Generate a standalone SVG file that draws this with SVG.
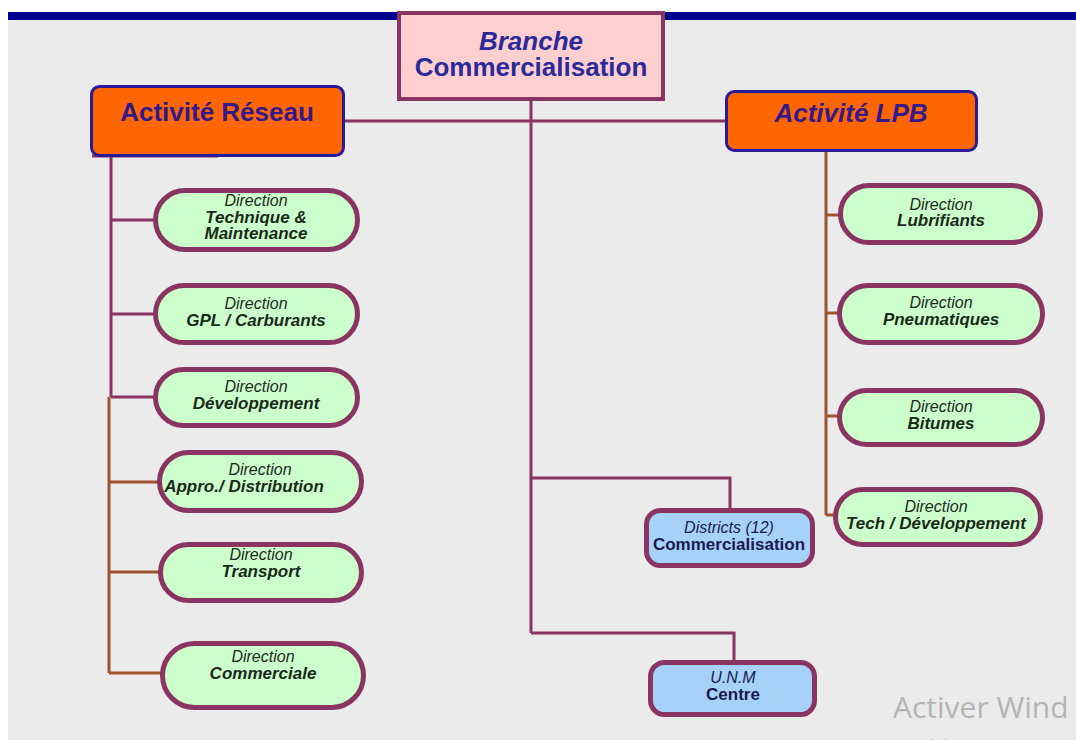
<svg xmlns="http://www.w3.org/2000/svg" width="1076" height="740" viewBox="0 0 1076 740">
  <style>
    .bg { fill: #ebebeb; }
    .bar { fill: #000090; }
    .root { fill: #ffcfcf; stroke: #8a3461; stroke-width: 4; }
    .act { fill: #ff6600; stroke: #2a1a9a; stroke-width: 3; }
    .pill { fill: #ccffcc; stroke: #8a3461; stroke-width: 5; }
    .unit { fill: #a6d2fa; stroke: #8a3461; stroke-width: 5; }
    .lnM { fill: none; stroke: #8a3461; stroke-width: 3; }
    .lnB { fill: none; stroke: #a0522d; stroke-width: 3; }
    text { font-family: "Liberation Sans", Arial, sans-serif; text-anchor: middle; }
    .tRoot { font-size: 26px; font-weight: bold; fill: #2a2a9a; }
    .tAct { font-size: 26px; font-weight: bold; fill: #33198c; }
    .it { font-style: italic; }
    .tSmall { font-size: 16px; fill: #1e2a1e; font-style: italic; }
    .tBold { font-size: 17px; font-weight: bold; font-style: italic; fill: #1a2a1a; }
    .tUnitI { font-size: 16px; font-style: italic; fill: #1a1a50; }
    .tUnitB { font-size: 17px; font-weight: bold; fill: #1a1a50; }
    .wm { font-family: "Open Sans", "Noto Sans", sans-serif; fill: #b4b4b4; text-anchor: start; }
  </style>

  <!-- page -->
  <rect x="0" y="0" width="1076" height="740" fill="#ffffff"/>
  <rect class="bg" x="8" y="20" width="1068" height="720"/>
  <rect class="bar" x="8" y="12" width="1068" height="8"/>

  <!-- connectors -->
  <g id="connectors">
    <!-- root trunk and activity bar -->
    <path class="lnM" d="M531 100 V633"/>
    <path class="lnM" d="M345 121 H725"/>
    <path class="lnM" d="M531 478 H730 V508"/>
    <path class="lnM" d="M531 633 H734 V660"/>
    <!-- Activité Réseau branch -->
    <path class="lnM" d="M111 157 V397"/>
    <path class="lnM" d="M92 156 H218"/>
    <path class="lnM" d="M111 220 H155"/>
    <path class="lnM" d="M111 314 H155"/>
    <path class="lnM" d="M111 397 H155"/>
    <path class="lnB" d="M109 397 V673"/>
    <path class="lnB" d="M109 482 H159"/>
    <path class="lnB" d="M109 572 H160"/>
    <path class="lnB" d="M109 673 H162"/>
    <!-- Activité LPB branch -->
    <path class="lnB" d="M826 152 V515"/>
    <path class="lnB" d="M826 215 H840"/>
    <path class="lnB" d="M826 313 H839"/>
    <path class="lnB" d="M826 416 H839"/>
    <path class="lnB" d="M826 515 H835"/>
  </g>

  <!-- root -->
  <g id="branche">
    <rect class="root" x="399" y="13" width="264" height="86"/>
    <text class="tRoot it" x="531" y="50">Branche</text>
    <text class="tRoot" x="531" y="76">Commercialisation</text>
  </g>

  <!-- activities -->
  <g id="activite-reseau">
    <rect class="act" x="91.5" y="86.5" width="252" height="69" rx="8"/>
    <text class="tAct" x="217" y="121">Activité Réseau</text>
  </g>
  <g id="activite-lpb">
    <rect class="act" x="726.5" y="91.5" width="250" height="59" rx="8"/>
    <text class="tAct it" x="851" y="122">Activité LPB</text>
  </g>

  <!-- Réseau directions -->
  <g id="dir-technique">
    <rect class="pill" x="155.5" y="190.5" width="202" height="59" rx="29.5"/>
    <text class="tSmall" x="256" y="206">Direction</text>
    <text class="tBold" x="256" y="223">Technique &amp;</text>
    <text class="tBold" x="256" y="239">Maintenance</text>
  </g>
  <g id="dir-gpl">
    <rect class="pill" x="155.5" y="285.5" width="202" height="57" rx="28.5"/>
    <text class="tSmall" x="256" y="309">Direction</text>
    <text class="tBold" x="256" y="326">GPL / Carburants</text>
  </g>
  <g id="dir-developpement">
    <rect class="pill" x="155.5" y="369.5" width="202" height="56" rx="28"/>
    <text class="tSmall" x="256" y="392">Direction</text>
    <text class="tBold" x="256" y="409">Développement</text>
  </g>
  <g id="dir-appro">
    <rect class="pill" x="159.5" y="452.5" width="202" height="58" rx="29"/>
    <text class="tSmall" x="260" y="475">Direction</text>
    <text class="tBold" x="244" y="492" font-style="normal">Appro./ Distribution</text>
  </g>
  <g id="dir-transport">
    <rect class="pill" x="160.5" y="544.5" width="201" height="56" rx="28"/>
    <text class="tSmall" x="261" y="560">Direction</text>
    <text class="tBold" x="261" y="577">Transport</text>
  </g>
  <g id="dir-commerciale">
    <rect class="pill" x="162.5" y="643.5" width="201" height="64" rx="32"/>
    <text class="tSmall" x="263" y="662">Direction</text>
    <text class="tBold" x="263" y="679">Commerciale</text>
  </g>

  <!-- LPB directions -->
  <g id="dir-lubrifiants">
    <rect class="pill" x="840.5" y="185.5" width="200" height="57" rx="28.5"/>
    <text class="tSmall" x="941" y="210">Direction</text>
    <text class="tBold" x="941" y="226">Lubrifiants</text>
  </g>
  <g id="dir-pneumatiques">
    <rect class="pill" x="839.5" y="285.5" width="203" height="57" rx="28.5"/>
    <text class="tSmall" x="941" y="308">Direction</text>
    <text class="tBold" x="941" y="325">Pneumatiques</text>
  </g>
  <g id="dir-bitumes">
    <rect class="pill" x="839.5" y="390.5" width="203" height="54" rx="27"/>
    <text class="tSmall" x="941" y="412">Direction</text>
    <text class="tBold" x="941" y="429">Bitumes</text>
  </g>
  <g id="dir-tech-dev">
    <rect class="pill" x="835.5" y="489.5" width="205" height="55" rx="27.5"/>
    <text class="tSmall" x="936" y="512">Direction</text>
    <text class="tBold" x="936" y="529">Tech / Développement</text>
  </g>

  <!-- units under the branch -->
  <g id="districts">
    <rect class="unit" x="646.5" y="510.5" width="166" height="55" rx="14"/>
    <text class="tUnitI" x="729" y="533">Districts (12)</text>
    <text class="tUnitB" x="729" y="550">Commercialisation</text>
  </g>
  <g id="unm">
    <rect class="unit" x="650.5" y="662.5" width="164" height="52" rx="14"/>
    <text class="tUnitI" x="733" y="683">U.N.M</text>
    <text class="tUnitB" x="733" y="700">Centre</text>
  </g>

  <!-- system overlay text -->
  <text class="wm" x="893" y="718" font-size="30">Activer Wind</text>
  <text class="wm" x="893" y="754" font-size="20">Accédez aux paramètres pour activer Windows.</text>
</svg>
